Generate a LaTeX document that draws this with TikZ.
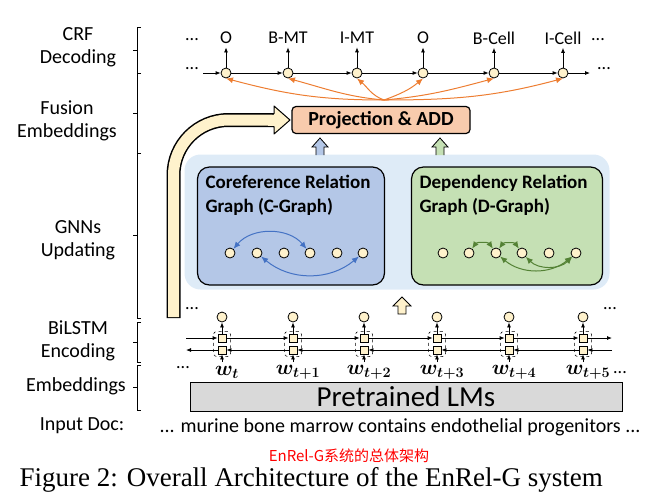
\documentclass[tikz,border=0pt]{standalone}
\usepackage{amsmath}
\usepackage{fontspec}
\setmainfont{Carlito}
\newfontfamily\capfont{Liberation Serif}
\newfontfamily\cjk{Noto Sans CJK SC}
\usetikzlibrary{arrows.meta}
\definecolor{peach}{HTML}{F8CBAD}
\definecolor{cream}{HTML}{FFF2CC}
\definecolor{bgblue}{HTML}{DEEBF7}
\definecolor{cblue}{HTML}{B4C7E7}
\definecolor{dgreen}{HTML}{C5E0B4}
\definecolor{oarr}{HTML}{ED7D31}
\definecolor{barr}{HTML}{4472C4}
\definecolor{garr}{HTML}{548235}
\begin{document}
\begin{tikzpicture}[x=1pt,y=-1pt,
  lbl/.style={font=\fontsize{20}{23}\selectfont,align=center},
  dot/.style={circle,draw,fill=cream,inner sep=0pt,minimum size=10pt,line width=0.8pt},
  sq/.style={rectangle,draw,fill=cream,inner sep=0pt,minimum size=8pt,line width=0.8pt},
  arr/.style={-{Latex[length=5pt,width=4pt]},line width=0.8pt},
  oa/.style={{Latex[length=7pt,width=6pt]}-,oarr,line width=1pt},
  ba/.style={{Latex[length=7pt,width=6pt]}-{Latex[length=7pt,width=6pt]},barr,line width=1pt},
  ga/.style={{Latex[length=7pt,width=6pt]}-{Latex[length=7pt,width=6pt]},garr,line width=1pt},
  hup/.style={draw,line width=0.8pt},
  tx/.style={font=\fontsize{18}{21}\selectfont},
  bt/.style={font=\bfseries\fontsize{19}{24}\selectfont,align=left,anchor=north west}]
\useasboundingbox (0,0) rectangle (652,499);
% left labels and braces
\node[lbl] (l1) at (78,47) {CRF\\Decoding};
\node[lbl] (l2) at (67,121) {Fusion\\Embeddings};
\node[lbl] (l3) at (78,240) {GNNs\\Updating};
\node[lbl] (l4) at (78,341) {BiLSTM\\Encoding};
\node[lbl] (l5) at (76,386) {Embeddings};
\node[lbl] (l6) at (82,426) {Input Doc:};
\foreach \a/\b in {27/73,73/153,153/318,322/362,365/410}{
  \draw[line width=0.6pt] (141,\a) -- (137,\a) -- (137,\b) -- (141,\b);
  \draw[line width=0.6pt] (137,{(\a+\b)/2}) -- (133,{(\a+\b)/2});}
% background boxes
\node[draw=none,fill=bgblue,rounded corners=16pt,minimum width=425pt,minimum height=135pt] (bg) at (397,222) {};
\node[draw,line width=1.2pt,fill=cblue,rounded corners=12pt,minimum width=187pt,minimum height=118pt] (cg) at (291,226) {};
\node[draw,line width=1.2pt,fill=dgreen,rounded corners=12pt,minimum width=191pt,minimum height=118pt] (dg) at (507,226) {};
\node[bt] (ct) at (202,172) {Coreference Relation\\Graph (C-Graph)};
\node[bt] (dt) at (416,172) {Dependency Relation\\Graph (D-Graph)};
% graph nodes
\foreach \i/\x in {1/230,2/257,3/284,4/310,5/337,6/363} \node[dot] (c\i) at (\x,253) {};
\foreach \i/\x in {1/443,2/469,3/496,4/522,5/549,6/576} \node[dot] (d\i) at (\x,253) {};
\draw[ba] (c1) to[bend left=50] (c4);
\draw[ba] (c2) to[bend right=40] (c6);
\draw[ga] (d2) to[bend left=55] (d3);
\draw[ga] (d3) to[bend left=55] (d4);
\draw[ga] (d3) to[bend right=40] (d6);
\draw[ga] (d4) to[bend right=45] (d6);
% yellow big arrow
\draw[line width=14pt,line cap=butt] (173.5,318) -- (173.5,175) arc[start angle=180,end angle=270,radius=55] -- (276,120);
\draw[line width=11pt,cream,line cap=butt] (173.5,317) -- (173.5,175) arc[start angle=180,end angle=270,radius=55] -- (277,120);
\draw[line width=1pt,fill=cream,line join=round] (274,106) -- (290,120) -- (274,134) -- (274,126.5) -- (273,126.5) -- (273,113.5) -- (274,113.5) -- cycle;
\fill[cream] (268,114.5) rectangle (275,125.5);
% projection
\node[draw,line width=1.2pt,fill=peach,rounded corners=4pt,minimum width=178pt,minimum height=27pt,font=\bfseries\fontsize{20}{23}\selectfont] (proj) at (381,120) {Projection \& ADD};
% hollow small arrows
\draw[hup,fill=cblue] (316,155) -- (316,147) -- (312,147) -- (320,138) -- (328,147) -- (324,147) -- (324,155);
\draw[hup,fill=dgreen] (436,155) -- (436,147) -- (432,147) -- (440,138) -- (448,147) -- (444,147) -- (444,155);
\draw[hup,fill=cream] (398,314) -- (398,306) -- (393,306) -- (402,297) -- (411,306) -- (406,306) -- (406,314) -- cycle;
% CRF
\foreach \i/\x/\t in {1/226/O,2/288/B-MT,3/357/I-MT,4/423/O,5/494/B-Cell,6/563/I-Cell}{
  \node[dot] (k\i) at (\x,73) {};
  \node[tx] (t\i) at (\x,38) {\t};
  \draw[arr] (k\i) -- (t\i.south);}
\node[tx] (e1) at (192,40) {...};
\node[tx] (e2) at (598,40) {...};
\node[tx] (e3) at (192,69) {...};
\node[tx] (e4) at (604,69) {...};
\coordinate (cs) at (203,73);
\coordinate (ce) at (590,73);
\draw[arr] (cs) -- (k1);
\foreach \a/\b in {1/2,2/3,3/4,4/5,5/6} \draw[arr] (k\a) -- (k\b);
\draw[arr] (k6) -- (ce);
\coordinate (ap) at (384,100);
\draw[oa] (k1.south) to[out=-15,in=180] (ap);
\draw[oa] (k2.south) to[out=-15,in=175] (ap);
\draw[oa] (k3.south) to[out=-40,in=160] (ap);
\draw[oa] (k4.south) to[out=-140,in=20] (ap);
\draw[oa] (k5.south) to[out=-165,in=5] (ap);
\draw[oa] (k6.south) to[out=-165,in=0] (ap);
% BiLSTM
\coordinate (f0) at (186,338); \coordinate (f1) at (612,338);
\coordinate (b0) at (186,350); \coordinate (b1) at (612,350);
\node[tx] (e5) at (192,309) {...};
\node[tx] (e6) at (610,309) {...};
\foreach \i/\x/\w in {1/222/t,2/293/{t+1},3/364/{t+2},4/437/{t+3},5/509/{t+4},6/583/{t+5}}{
  \node[dot] (h\i) at (\x,317) {};
  \node[draw,dashed,rounded corners=3pt,line width=0.5pt,minimum width=17pt,minimum height=25pt] (bx\i) at (\x,344) {};
  \node[sq] (p\i) at (\x,338) {};
  \node[sq] (q\i) at (\x,350) {};
  \node[font=\fontsize{22}{24}\selectfont] (w\i) at (\x+5,372) {$\boldsymbol{w_{\w}}$};
  \draw[arr] (p\i) -- (h\i);
  \coordinate (u\i) at (\x,362);
  \draw[arr] (u\i) -- (q\i);}
\draw[arr] (f0) -- (p1);
\foreach \a/\b in {1/2,2/3,3/4,4/5,5/6} {\draw[arr] (p\a) -- (p\b); \draw[arr] (q\b) -- (q\a);}
\draw[arr] (p6) -- (f1);
\draw[arr] (b1) -- (q6);
\draw[arr] (q1) -- (b0);
\node[tx] (e7) at (183,368) {...};
\node[tx] (e8) at (620,373) {...};
% LMs
\node[draw,line width=1pt,fill=black!15,minimum width=432pt,minimum height=29pt,font=\fontsize{29}{32}\selectfont] (lm) at (406,397) {Pretrained LMs};
\node[font=\fontsize{20}{23}\selectfont,anchor=west] (doc) at (156,427) {... murine bone marrow contains endothelial progenitors ...};
\node[text=red,font=\cjk\fontsize{15}{18}\selectfont] (red) at (349,456) {EnRel-G系统的总体架构};
\node[font=\capfont\fontsize{27}{30}\selectfont,anchor=west] (cap) at (16,480) {Figure 2: Overall Architecture of the EnRel-G system};
\end{tikzpicture}
\end{document}
